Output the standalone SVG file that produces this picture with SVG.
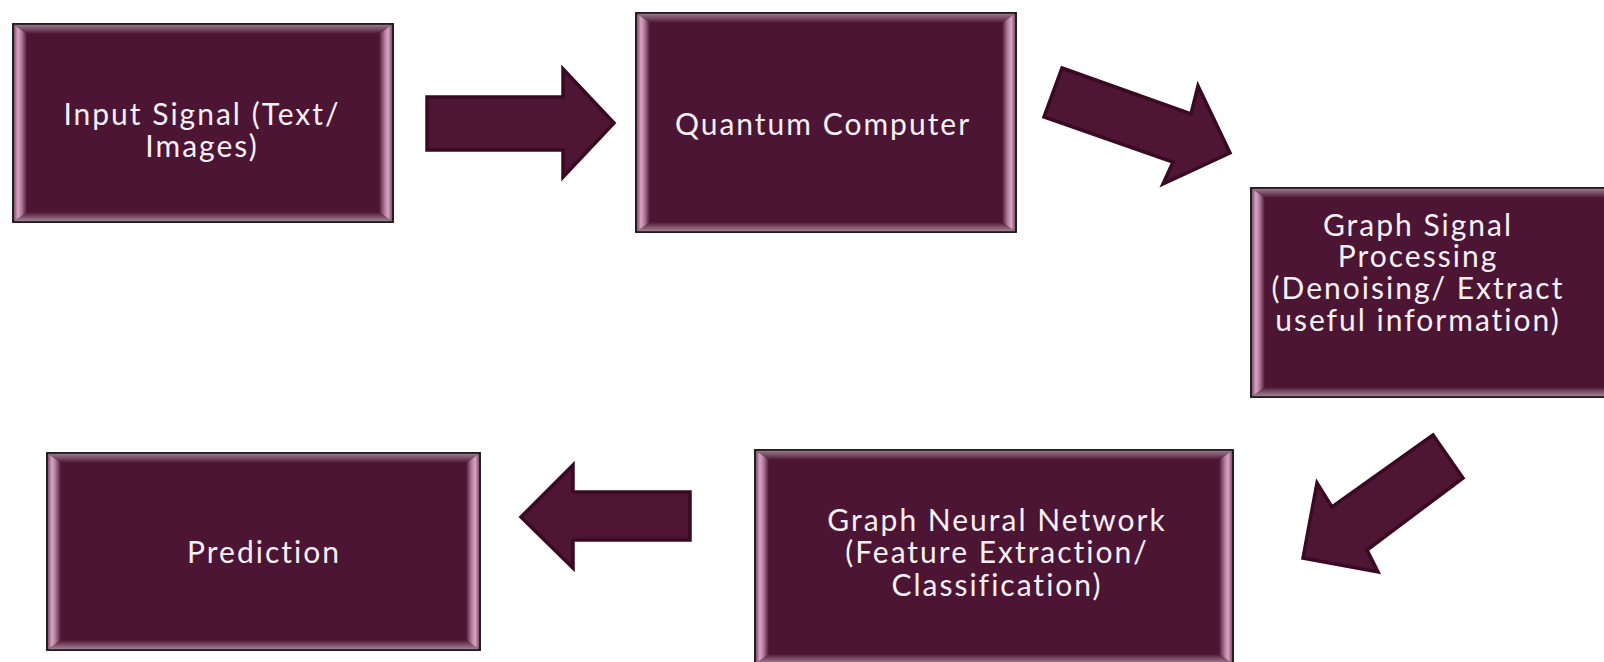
<svg xmlns="http://www.w3.org/2000/svg" width="1604" height="662" viewBox="0 0 1604 662">
<defs>
<linearGradient id="gTop" x1="0" y1="0" x2="0" y2="1"><stop offset="0" stop-color="#a08094"/><stop offset="0.5" stop-color="#7a4c64"/><stop offset="1" stop-color="#4c1533"/></linearGradient>
<linearGradient id="gBot" x1="0" y1="1" x2="0" y2="0"><stop offset="0" stop-color="#a98a9b"/><stop offset="0.5" stop-color="#7e5369"/><stop offset="1" stop-color="#4c1533"/></linearGradient>
<linearGradient id="gLeft" x1="0" y1="0" x2="1" y2="0"><stop offset="0" stop-color="#6e3b57"/><stop offset="0.35" stop-color="#d7a6c5"/><stop offset="0.6" stop-color="#b27a9c"/><stop offset="1" stop-color="#4c1533"/></linearGradient>
<linearGradient id="gRight" x1="1" y1="0" x2="0" y2="0"><stop offset="0" stop-color="#6e3b57"/><stop offset="0.35" stop-color="#d7a6c5"/><stop offset="0.6" stop-color="#b27a9c"/><stop offset="1" stop-color="#4c1533"/></linearGradient>
</defs>
<style>
.box{fill:#4c1533;stroke:#111;stroke-width:1.5}
.bt{fill:url(#gTop)}
.bb{fill:url(#gBot)}
.bl{fill:url(#gLeft)}
.br{fill:url(#gRight)}
.edge{fill:none;stroke:#111;stroke-width:1.5}
.lbl{font-family:Lato,"Open Sans",sans-serif;font-size:30px;letter-spacing:2px;fill:#f7f0f4;text-anchor:middle}
.arr{fill:#4e1634;stroke:#3a0a22;stroke-width:3.5;stroke-linejoin:miter}
</style>

<g id="node-input">
<rect class="box" x="13" y="24" width="380" height="198"/>
<polygon class="bt" points="13,24 393,24 379,34 27,34"/>
<polygon class="bb" points="13,222 393,222 379,212 27,212"/>
<polygon class="bl" points="13,24 27,34 27,212 13,222"/>
<polygon class="br" points="393,24 379,34 379,212 393,222"/>
<rect class="edge" x="13" y="24" width="380" height="198"/>
<text class="lbl" x="202" y="125">Input Signal (Text/</text>
<text class="lbl" x="202" y="157">Images)</text>
</g>

<g id="node-quantum">
<rect class="box" x="636" y="13" width="380" height="219"/>
<polygon class="bt" points="636,13 1016,13 1002,23 650,23"/>
<polygon class="bb" points="636,232 1016,232 1002,222 650,222"/>
<polygon class="bl" points="636,13 650,23 650,222 636,232"/>
<polygon class="br" points="1016,13 1002,23 1002,222 1016,232"/>
<rect class="edge" x="636" y="13" width="380" height="219"/>
<text class="lbl" x="823" y="135">Quantum Computer</text>
</g>

<g id="node-gsp">
<rect class="box" x="1251" y="188" width="370" height="209"/>
<polygon class="bt" points="1251,188 1621,188 1607,198 1265,198"/>
<polygon class="bb" points="1251,397 1621,397 1607,387 1265,387"/>
<polygon class="bl" points="1251,188 1265,198 1265,387 1251,397"/>
<rect class="edge" x="1251" y="188" width="370" height="209"/>
<text class="lbl" x="1418" y="236">Graph Signal</text>
<text class="lbl" x="1418" y="267">Processing</text>
<text class="lbl" x="1418" y="299">(Denoising/ Extract</text>
<text class="lbl" x="1418" y="331">useful information)</text>
</g>

<g id="node-gnn">
<rect class="box" x="755" y="450" width="478" height="214"/>
<polygon class="bt" points="755,450 1233,450 1219,460 769,460"/>
<polygon class="bb" points="755,664 1233,664 1219,654 769,654"/>
<polygon class="bl" points="755,450 769,460 769,654 755,664"/>
<polygon class="br" points="1233,450 1219,460 1219,654 1233,664"/>
<rect class="edge" x="755" y="450" width="478" height="214"/>
<text class="lbl" x="997" y="531">Graph Neural Network</text>
<text class="lbl" x="997" y="563">(Feature Extraction/</text>
<text class="lbl" x="997" y="596">Classification)</text>
</g>

<g id="node-prediction">
<rect class="box" x="47" y="453" width="433" height="197"/>
<polygon class="bt" points="47,453 480,453 466,463 61,463"/>
<polygon class="bb" points="47,650 480,650 466,640 61,640"/>
<polygon class="bl" points="47,453 61,463 61,640 47,650"/>
<polygon class="br" points="480,453 466,463 466,640 480,650"/>
<rect class="edge" x="47" y="453" width="433" height="197"/>
<text class="lbl" x="264" y="563">Prediction</text>
</g>

<g id="connectors">
<polygon class="arr" points="427,97 563,97 563,69 614,123 563,177 563,150 427,150"/>
<polygon class="arr" points="1062,68 1191,114 1198,86 1230,153 1163,184 1173,162 1044,117"/>
<polygon class="arr" points="1433,435 1463,478 1367,550 1378,572 1303,558 1317,483 1332,507"/>
<polygon class="arr" points="690,492 573,492 573,465 521,517 573,568 573,540 690,540"/>
</g>
</svg>
